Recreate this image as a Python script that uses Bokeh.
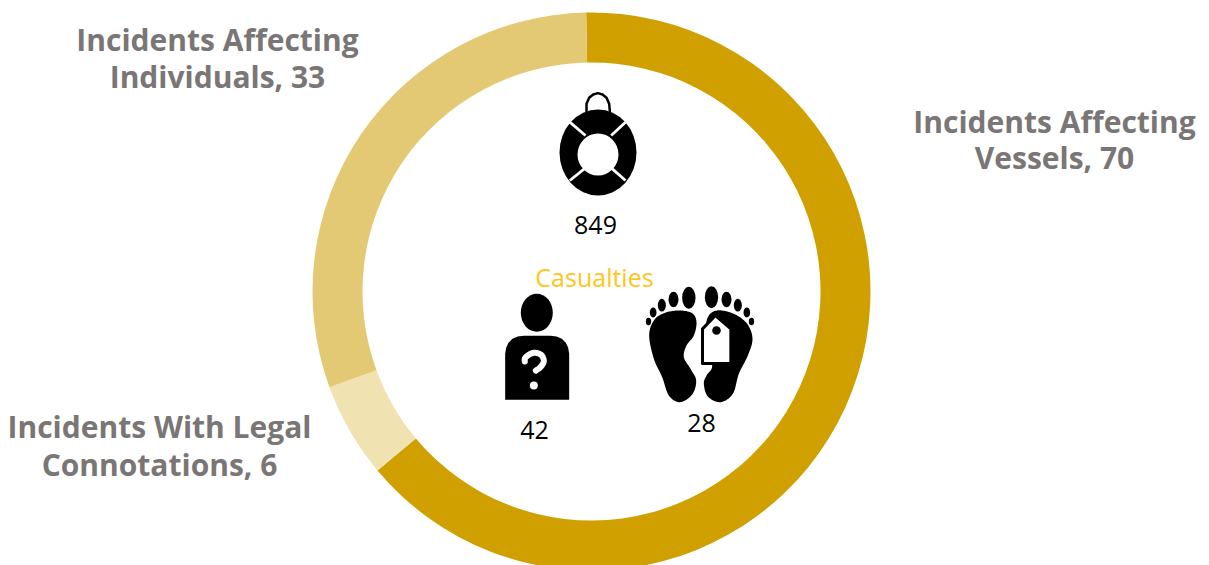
import numpy as np
from bokeh.plotting import figure
from bokeh.models import Range1d, ColumnDataSource
from bokeh.core.properties import value
from bokeh.embed import file_html
from bokeh.resources import INLINE

categories = ["Incidents Affecting\nVessels", "Incidents With Legal\nConnotations", "Incidents Affecting\nIndividuals"]
incidents = [70, 6, 33]
slice_colors = ["#D0A000", "#F1E2B2", "#E4C974"]
casualty_title = "Casualties"
casualty_values = [849, 42, 28]

W, H = 1209, 565
p = figure(width=W, height=H, output_backend="svg", toolbar_location=None,
           x_range=Range1d(0, W), y_range=Range1d(0, H),
           min_border=0, outline_line_color=None, background_fill_color="white",
           border_fill_color="white")
p.axis.visible = False
p.grid.visible = False

def Y(py):
    return 565 - np.asarray(py, dtype=float)

# ring
CX, CY, R_OUT, R_IN = 591, 291, 279, 229
ROTATION = np.radians(1.1)
vals = np.array(incidents, dtype=float)
fr = np.cumsum(vals) / vals.sum()
starts = np.pi / 2 + ROTATION - 2 * np.pi * np.concatenate([[0], fr[:-1]])
ends = np.pi / 2 + ROTATION - 2 * np.pi * fr
src = ColumnDataSource(dict(s=starts, e=ends, c=slice_colors))
p.annular_wedge(x=CX, y=float(Y(CY)), inner_radius=R_IN, outer_radius=R_OUT, start_angle="s", end_angle="e",
                direction="clock", fill_color="c", line_color=None, source=src)

FONT = "Open Sans"
def text(x, y, s, size, color, style="normal"):
    p.text([x], [float(Y(y))], text=[s], text_align="center", text_baseline="middle",
           text_font=value(FONT), text_font_size=size, text_color=color, text_font_style=style)

LBL = "#7A7676"
pos = [(1054, 121, 157), (159, 426, 464), (217, 39, 76)]
for (x, y1, y2), c, v in zip(pos, categories, incidents):
    a, b = c.split("\n")
    text(x, y1, a, "30px", LBL, "bold")
    text(x, y2, f"{b}, {v}", "30px", LBL, "bold")

text(594, 276, casualty_title, "25px", "#FFC61E")
for (x, y), v in zip([(595, 224), (534, 429), (701, 422)], casualty_values):
    text(x, y, str(v), "25px", "black")

# ---- icon helpers (crop coordinates -> page pixels)
def smooth(pts, n=10):
    pts = np.array(pts, dtype=float)
    m = len(pts)
    out = []
    for i in range(m):
        p0, p1, p2, p3 = pts[(i - 1) % m], pts[i], pts[(i + 1) % m], pts[(i + 2) % m]
        for t in np.linspace(0, 1, n, endpoint=False):
            out.append(0.5 * (2 * p1 + (p2 - p0) * t + (2 * p0 - 5 * p1 + 4 * p2 - p3) * t**2 + (3 * p1 - p0 - 3 * p2 + p3) * t**3))
    return np.array(out)

def crop(pts, x0, y0):
    a = np.array(pts, dtype=float)
    return x0 + a[:, 0] / 3, y0 + a[:, 1] / 3

def ell(x, y, rx, ry, color="black"):
    p.ellipse([x], [float(Y(y))], width=2 * rx, height=2 * ry, fill_color=color, line_color=None)

def poly(xs, ys, color="black", line=None, lw=0):
    p.patch(list(xs), list(Y(ys)), fill_color=color, line_color=line, line_width=lw, line_join="round")

def stroke(xs, ys, color, lw):
    p.line(list(xs), list(Y(ys)), line_color=color, line_width=lw, line_cap="round", line_join="round")

# lifebuoy
hx, hy = crop([(288, 92), (288, 70), (296, 52), (308, 42), (322, 38), (336, 42), (348, 52), (356, 70), (358, 92)], 490, 80)
stroke(hx, hy, "black", 2.5)
ell(597.5, 152, 38.5, 43)
ell(597.5, 154, 20.5, 21, "white")
for seg in ([(238, 125), (285, 165)], [(405, 125), (362, 165)], [(238, 300), (285, 262)], [(405, 300), (362, 262)]):
    sx, sy = crop(seg, 490, 80)
    p.line(list(sx), list(Y(sy)), line_color="white", line_width=2.8)

# person
ell(536.3, 312.3, 16, 19)
bx, by = crop([(44, 418), (44, 280), (47, 262), (54, 247), (66, 235), (82, 228), (100, 226), (180, 226), (198, 228),
               (214, 235), (226, 247), (233, 262), (236, 280), (236, 418)], 490, 260)
poly(bx, by)
qx, qy = crop(smooth([(103, 303), (112, 285), (131, 277), (152, 283), (160, 302), (150, 320), (134, 333), (130, 352)], 6)[:36], 490, 260)
stroke(qx, qy, "white", 6)
ell(490 + 130 / 3, 260 + 375 / 3, 4, 4, "white")

# feet
LEFT = [(476, 225), (490, 180), (520, 158), (565, 150), (605, 158), (618, 185), (610, 225), (588, 255), (580, 290),
        (600, 325), (617, 360), (605, 402), (568, 425), (535, 405), (515, 350), (490, 295)]
RIGHT = [(650, 175), (680, 150), (730, 160), (770, 190), (786, 235), (772, 285), (745, 340), (727, 400),
         (690, 425), (652, 408), (640, 370), (648, 345), (665, 315), (640, 260)]
for shape in (LEFT, RIGHT):
    fx, fy = crop(smooth(shape), 490, 260)
    poly(fx, fy)
toes = [(595, 112, 20, 33), (549, 117, 15, 23), (514, 134, 12, 19), (488, 156, 10, 15), (474, 183, 8, 11),
        (663, 110, 20, 33), (708, 117, 15, 23), (742, 134, 12, 19), (769, 156, 10, 15), (783, 183, 8, 11)]
for tx, ty, rx, ry in toes:
    ell(490 + tx / 3, 260 + ty / 3, rx / 3, ry / 3)
# tag
tx, ty = crop([(636, 205), (675, 165), (721, 205), (721, 309), (636, 309)], 490, 260)
poly(tx, ty, "white", "black", 3)
ell(490 + 678 / 3, 260 + 210 / 3, 4.3, 4.3)

open("out.html", "w").write(file_html(p, INLINE))
